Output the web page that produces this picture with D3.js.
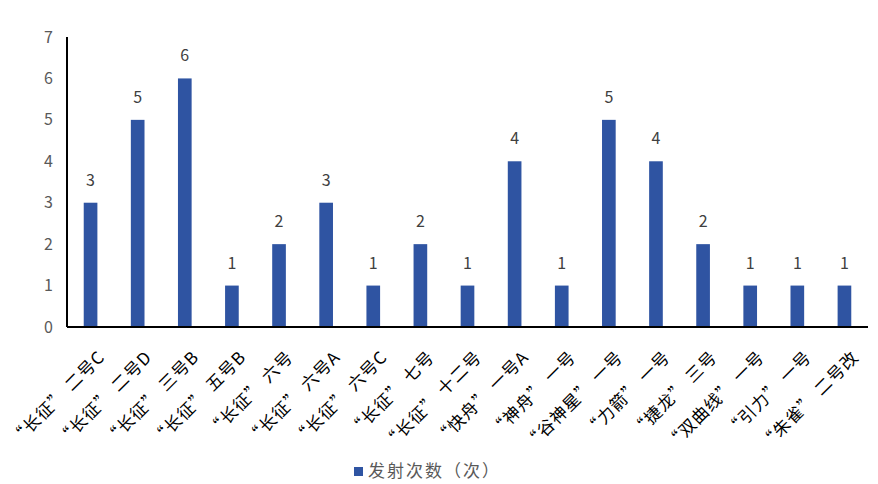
<!DOCTYPE html>
<html>
<head>
<meta charset="utf-8">
<script src="https://cdn.jsdelivr.net/npm/d3@7"></script>
<style>
body{margin:0;background:#fff;}
text{font-family:"Noto Sans CJK SC","Noto Sans",sans-serif;}
.q{font-feature-settings:"fwid";}
</style>
</head>
<body>
<div id="plot"></div>
<script>
var categories = ['“长征” 二号C','“长征” 二号D','“长征” 三号B','“长征” 五号B','“长征” 六号','“长征” 六号A','“长征” 六号C','“长征” 七号','“长征” 十二号','“快舟” 一号A','“神舟” 一号','“谷神星” 一号','“力箭” 一号','“捷龙” 三号','“双曲线” 一号','“引力” 一号','“朱雀” 二号改'];
var launches = [3,5,6,1,2,3,1,2,1,4,1,5,4,2,1,1,1];
var yTicks = [0,1,2,3,4,5,6,7];
var seriesName = '发射次数（次）';

var W = 878, H = 484,
	m = {t:37,r:10,b:157,l:67},
	width = W - m.l - m.r,
	height = H - m.t - m.b;

var svg = d3.select('#plot').append('svg')
	.attr('width',W).attr('height',H);

var plot = svg.append('g')
	.attr('transform','translate('+m.l+','+m.t+')');

var x = d3.scaleBand().domain(categories).range([0,width]).paddingInner(0.71).paddingOuter(0.355);
var y = d3.scaleLinear().domain([0,7]).range([height,0]);

//bars
plot.selectAll('.bar').data(launches).enter().append('rect')
	.attr('x',function(d,i){return x(categories[i]);})
	.attr('y',function(d){return y(d);})
	.attr('width',x.bandwidth())
	.attr('height',function(d){return height - y(d);})
	.style('fill','#2F54A2');

//value labels
plot.selectAll('.lbl').data(launches).enter().append('text')
	.attr('x',function(d,i){return x(categories[i]) + x.bandwidth()/2;})
	.attr('y',function(d){return y(d) - 17;})
	.attr('text-anchor','middle')
	.style('font-size','16px')
	.style('fill','#404040')
	.text(function(d){return d;});

//y axis labels (no tick marks)
plot.selectAll('.ytick').data(yTicks).enter().append('text')
	.attr('x',-14)
	.attr('y',function(d){return y(d);})
	.attr('dy','0.35em')
	.attr('text-anchor','end')
	.style('font-size','16px')
	.style('fill','#595959')
	.text(function(d){return d;});

//axis lines
plot.append('line').attr('x1',0).attr('x2',0).attr('y1',0).attr('y2',height)
	.style('stroke','#000').style('stroke-width',2);
plot.append('line').attr('x1',0).attr('x2',width).attr('y1',height).attr('y2',height)
	.style('stroke','#000').style('stroke-width',2);

//category labels, rotated; quotes drawn full width
var xl = plot.selectAll('.xlbl').data(categories).enter().append('text')
	.attr('transform',function(d){
		var cx = x(d) + x.bandwidth()/2 + 11;
		return 'translate('+cx+','+(height+27)+') rotate(-45)';
	})
	.attr('text-anchor','end')
	.attr('dy','0.35em')
	.style('font-size','17px')
	.style('letter-spacing','1px')
	.style('fill','#000');

xl.each(function(d){
	var t = d3.select(this);
	d.split('').forEach(function(ch){
		t.append('tspan')
			.attr('class',(ch=='“'||ch=='”') ? 'q' : null)
			.text(ch);
	});
});

//legend
var leg = svg.append('g').attr('transform','translate(354,467)');
leg.append('rect').attr('width',9).attr('height',9).style('fill','#2F54A2');
leg.append('text').attr('x',14).attr('y',4.5).attr('dy','0.35em')
	.style('font-size','17px').style('letter-spacing','2px').style('fill','#595959')
	.text(seriesName);
</script>
</body>
</html>
